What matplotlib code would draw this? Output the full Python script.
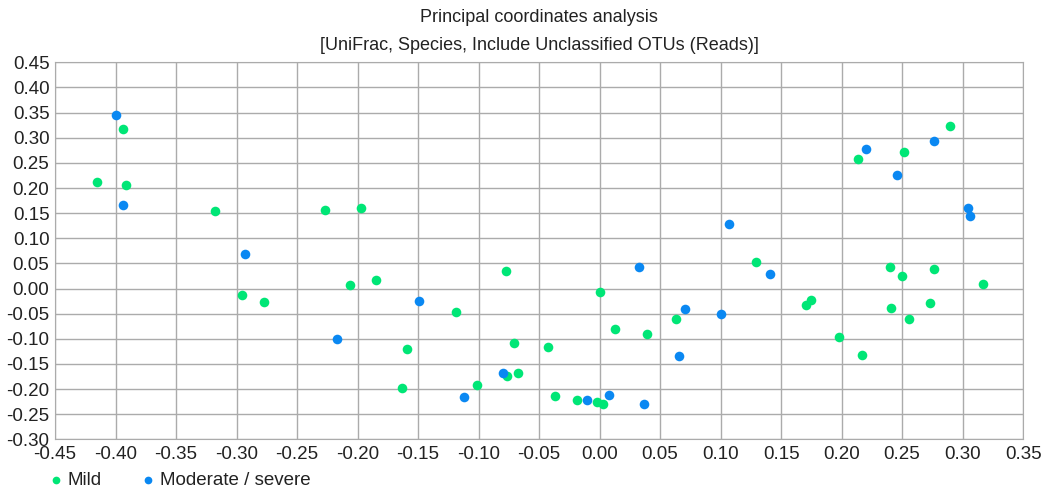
import matplotlib
matplotlib.use('Agg')
import matplotlib.pyplot as plt
import numpy as np
from matplotlib import rcParams

rcParams.update({'font.family': ['Liberation Sans', 'DejaVu Sans']})

# Mild group (PCo1, PCo2)
mild_x = [-0.3938, -0.4153, -0.391, -0.3178, -0.2271, -0.1974, -0.2957, -0.277,
          -0.2062, -0.1845, -0.1189, -0.0775, 0.0002, 0.013, 0.039, 0.0632,
          -0.1588, -0.0707, -0.0423, -0.163, -0.1015, -0.0764, -0.0676, -0.0365,
          -0.0183, -0.0023, 0.0031, 0.2894, 0.2514, 0.2139, 0.1293, 0.1707,
          0.1748, 0.198, 0.2167, 0.2404, 0.2498, 0.2764, 0.3167, 0.2406,
          0.2729, 0.2555]
mild_y = [0.318, 0.212, 0.206, 0.154, 0.156, 0.160, -0.0135, -0.027,
          0.007, 0.016, -0.0467, 0.0343, -0.0063, -0.080, -0.090, -0.0612,
          -0.1197, -0.1084, -0.117, -0.1985, -0.192, -0.1747, -0.1687, -0.2145,
          -0.2218, -0.2257, -0.2297, 0.323, 0.271, 0.258, 0.0522, -0.032,
          -0.0222, -0.0965, -0.1323, 0.0434, 0.0249, 0.0382, 0.0084, -0.0393,
          -0.0288, -0.0612]

# Moderate / severe group
mod_x = [-0.3993, -0.394, -0.2932, -0.2172, -0.1489, 0.0324, 0.0654, -0.1122,
         -0.080, -0.0106, 0.0079, 0.0368, 0.2762, 0.2202, 0.2456, 0.3045,
         0.3059, 0.1073, 0.1409, 0.0704, 0.1007]
mod_y = [0.345, 0.166, 0.068, -0.0998, -0.0248, 0.0434, -0.134, -0.2158,
         -0.1675, -0.2212, -0.2124, -0.2297, 0.294, 0.278, 0.225, 0.161,
         0.144, 0.128, 0.0283, -0.0413, -0.050]

xticks = np.round(np.arange(-0.45, 0.351, 0.05), 2) + 0.0
yticks = np.round(np.arange(-0.30, 0.451, 0.05), 2) + 0.0

green = '#00E676'
blue = '#0A88F2'


def fmt(v):
    s = '%.2f' % v
    return '0.00' if s == '-0.00' else s


fig = plt.figure(figsize=(10.44, 4.91), dpi=100)
ax = fig.add_axes([0.0527, 0.1053, 0.9273, 0.7677])

ax.scatter(mild_x, mild_y, s=48, color=green, linewidths=0, label='Mild', zorder=3)
ax.scatter(mod_x, mod_y, s=48, color=blue, linewidths=0, label='Moderate / severe', zorder=3)

ax.set_xlim(-0.45, 0.35)
ax.set_ylim(-0.30, 0.45)
ax.set_xticks(xticks)
ax.set_yticks(yticks)
ax.set_xticklabels([fmt(v) for v in xticks])
ax.set_yticklabels([fmt(v) for v in yticks])
ax.tick_params(length=0, labelsize=13.5, colors='#222222')
ax.tick_params(axis='y', pad=4)
ax.tick_params(axis='x', pad=5)
ax.grid(True, color='#ababab', linewidth=1)
for side in ['top', 'right', 'left', 'bottom']:
    ax.spines[side].set_color('#ababab')

ax.set_title('Principal coordinates analysis\n[UniFrac, Species, Include Unclassified OTUs (Reads)]',
             fontsize=13, linespacing=1.85, pad=9, color='#222222')

fig.legend(handles=ax.collections, labels=['Mild', 'Moderate / severe'],
           loc='center left', bbox_to_anchor=(0.047, 0.021), ncol=2, frameon=False,
           fontsize=13.5, markerscale=0.8, handletextpad=0.3, columnspacing=2.1,
           handlelength=0.7, borderpad=0, borderaxespad=0, labelcolor='#222222')

plt.savefig('out.png', dpi=100)
